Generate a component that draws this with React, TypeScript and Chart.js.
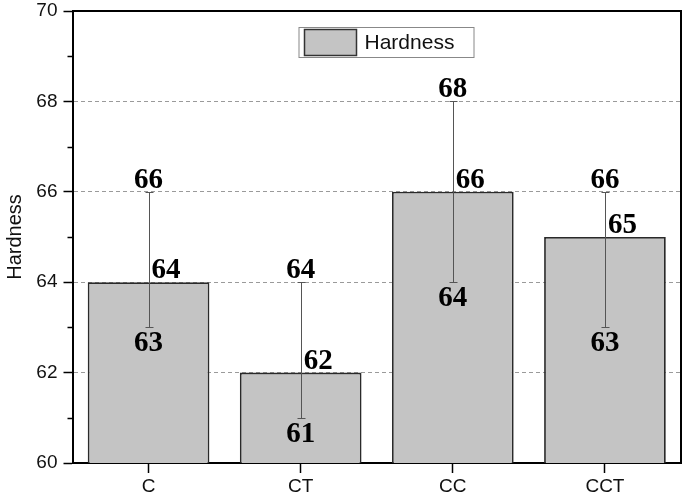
import React, { useEffect, useRef } from "react";
import { Chart, registerables } from "chart.js";

Chart.register(...registerables);

const categories = ["C", "CT", "CC", "CCT"];
const hardness = [64, 62, 66, 65];
const errLow = [63, 61, 64, 63];
const errHigh = [66, 64, 68, 66];
const seriesName = "Hardness";
const yMin = 60;
const yMax = 70;

const sans = "'Liberation Sans', Arial, sans-serif";
const serif = "'Liberation Serif', 'Times New Roman', serif";

const overlayPlugin = {
  id: "overlay",
  afterDatasetsDraw(chart: any) {
    const ctx = chart.ctx;
    const { left, right, top, bottom } = chart.chartArea;
    const x = chart.scales.x;
    const y = chart.scales.y;
    ctx.save();
    // frame top & right
    ctx.strokeStyle = "#000";
    ctx.lineWidth = 2;
    ctx.beginPath();
    ctx.moveTo(left, top);
    ctx.lineTo(right, top);
    ctx.lineTo(right, bottom);
    ctx.stroke();
    // minor ticks
    ctx.lineWidth = 1.5;
    for (let v = yMin + 1; v < yMax; v += 2) {
      const py = Math.round(y.getPixelForValue(v)) + 0.5;
      ctx.beginPath();
      ctx.moveTo(left - 5, py);
      ctx.lineTo(left, py);
      ctx.stroke();
    }
    // error bars
    ctx.strokeStyle = "#555";
    ctx.lineWidth = 1;
    categories.forEach((_, i) => {
      const cx = Math.round(x.getPixelForValue(i)) + 0.5;
      const yh = Math.round(y.getPixelForValue(errHigh[i])) + 0.5;
      const yl = Math.round(y.getPixelForValue(errLow[i])) + 0.5;
      ctx.beginPath();
      ctx.moveTo(cx, yh);
      ctx.lineTo(cx, yl);
      ctx.moveTo(cx - 4, yh);
      ctx.lineTo(cx + 4, yh);
      ctx.moveTo(cx - 4, yl);
      ctx.lineTo(cx + 4, yl);
      ctx.stroke();
    });
    // labels
    ctx.fillStyle = "#000";
    ctx.font = `bold 29px ${serif}`;
    categories.forEach((_, i) => {
      const cx = x.getPixelForValue(i);
      const yh = y.getPixelForValue(errHigh[i]);
      const yl = y.getPixelForValue(errLow[i]);
      const yv = y.getPixelForValue(hardness[i]);
      ctx.textAlign = "center";
      ctx.textBaseline = "alphabetic";
      ctx.fillText(String(errHigh[i]), cx, yh - 4);
      ctx.fillText(String(errLow[i]), cx, yl + 24);
      ctx.textAlign = "left";
      ctx.fillText(String(hardness[i]), cx + 3, yv - 4);
    });
    // legend
    const lx = left + 226;
    const ly = top + 16;
    ctx.fillStyle = "#fff";
    ctx.fillRect(lx, ly, 175, 30);
    ctx.strokeStyle = "#888";
    ctx.lineWidth = 1;
    ctx.strokeRect(lx + 0.5, ly + 0.5, 175, 30);
    ctx.fillStyle = "#c4c4c4";
    ctx.fillRect(lx + 6, ly + 2.5, 52, 26);
    ctx.strokeStyle = "#333";
    ctx.lineWidth = 1.5;
    ctx.strokeRect(lx + 6, ly + 2.5, 52, 26);
    ctx.fillStyle = "#111";
    ctx.font = `21px ${sans}`;
    ctx.textAlign = "left";
    ctx.textBaseline = "middle";
    ctx.fillText(seriesName, lx + 66, ly + 16);
    ctx.restore();
  },
};

export default function App() {
  const ref = useRef<HTMLCanvasElement>(null);
  useEffect(() => {
    document.body.style.margin = "0";
    const chart = new Chart(ref.current!, {
      type: "bar",
      data: {
        labels: categories,
        datasets: [
          {
            label: seriesName,
            data: hardness,
            backgroundColor: "#c4c4c4",
            borderColor: "#2a2a2a",
            borderWidth: 1.8,
            barPercentage: 0.8,
            categoryPercentage: 1.0,
          },
        ],
      },
      options: {
        responsive: false,
        animation: false,
        layout: { padding: { top: 11, right: 4, left: 0, bottom: 0 } },
        plugins: { legend: { display: false }, tooltip: { enabled: false } },
        scales: {
          x: {
            afterFit(s: any) {
              s.height = 34;
              s.paddingLeft = 0;
              s.paddingRight = 0;
            },
            grid: {
              drawOnChartArea: false,
              drawTicks: true,
              tickLength: 10,
              tickColor: "#000",
              tickWidth: 1.5,
              offset: false,
            },
            border: { display: true, color: "#000", width: 2 },
            ticks: { color: "#111", font: { family: sans, size: 19 }, padding: 2 },
          },
          y: {
            min: yMin,
            max: yMax,
            afterFit(s: any) {
              s.width = 72.5;
              s.paddingTop = 0;
              s.paddingBottom = 0;
            },
            ticks: { stepSize: 2, color: "#111", font: { family: sans, size: 19 }, padding: 6 },
            grid: {
              color: (c: any) =>
                c.tick && (c.tick.value === yMin || c.tick.value === yMax) ? "rgba(0,0,0,0)" : "#9a9a9a",
              lineWidth: 1,
              tickColor: "#000",
              tickLength: 9,
              tickWidth: 1.5,
            },
            border: { display: true, color: "#000", width: 2, dash: [4, 3] },
            title: {
              display: true,
              text: seriesName,
              color: "#111",
              font: { family: sans, size: 20 },
              padding: { top: 3, bottom: 0 },
            },
          },
        },
      },
      plugins: [overlayPlugin],
    });
    return () => chart.destroy();
  }, []);
  return (
    <div style={{ position: "fixed", left: 0, top: 0, width: 685, height: 497, background: "#fff" }}>
      <canvas ref={ref} width={685} height={497} />
    </div>
  );
}
